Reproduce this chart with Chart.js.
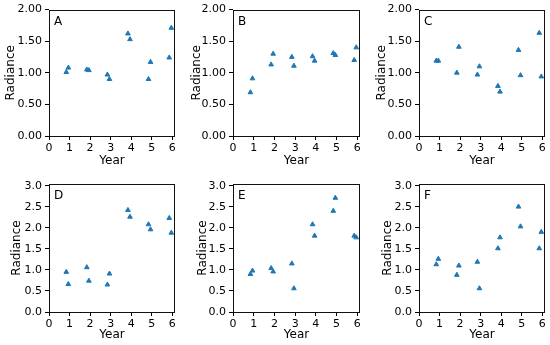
<!DOCTYPE html>
<html>
<head>
<meta charset="utf-8">
<script src="https://cdn.jsdelivr.net/npm/chart.js@4.4.1/dist/chart.umd.min.js"></script>
<style>
  body { margin: 0; background: #fff; }
  #wrap { position: relative; width: 550px; height: 345px; }
  canvas { position: absolute; }
</style>
</head>
<body>
<div id="wrap">
  <canvas id="pA"></canvas>
  <canvas id="pB"></canvas>
  <canvas id="pC"></canvas>
  <canvas id="pD"></canvas>
  <canvas id="pE"></canvas>
  <canvas id="pF"></canvas>
</div>
<script>
// x positions of the two measurements in each year
var xFirst = [0.84, 1.84, 2.84, 3.84, 4.84, 5.85];
var xSecond = [0.94, 1.94, 2.94, 3.94, 4.94, 5.95];

// radiance values
var radA1 = [1.01, 1.05, 0.97, 1.62, 0.90, 1.24];
var radA2 = [1.08, 1.04, 0.90, 1.53, 1.17, 1.71];
var radB1 = [0.69, 1.13, 1.25, 1.26, 1.31, 1.20];
var radB2 = [0.91, 1.30, 1.11, 1.19, 1.28, 1.40];
var radC1 = [1.19, 1.00, 0.97, 0.79, 1.36, 1.63];
var radC2 = [1.19, 1.41, 1.10, 0.70, 0.96, 0.94];
var radD1 = [0.95, 1.06, 0.65, 2.42, 2.08, 2.23];
var radD2 = [0.66, 0.74, 0.91, 2.26, 1.96, 1.88];
var radE1 = [0.90, 1.04, 1.15, 2.08, 2.40, 1.81];
var radE2 = [0.98, 0.96, 0.56, 1.81, 2.71, 1.77];
var radF1 = [1.13, 0.88, 1.19, 1.51, 2.50, 1.51];
var radF2 = [1.26, 1.10, 0.56, 1.77, 2.03, 1.90];

var xTicks = [0, 1, 2, 3, 4, 5, 6];
var yTicksTop = [0, 0.25, 0.5, 0.75, 1, 1.25, 1.5, 1.75, 2];
var yTicksBottom = [0, 0.5, 1, 1.5, 2, 2.5, 3];

var blue = '#1f77b4';
var font = 'DejaVu Sans';

// box round the plot area + panel letter
var boxPlugin = {
    id: 'box',
    afterDraw: function (chart) {
        var a = chart.chartArea;
        var c = chart.ctx;
        c.save();
        c.strokeStyle = '#111';
        c.lineWidth = 1;
        c.strokeRect(Math.round(a.left) + 0.5, Math.round(a.top) + 0.5,
            Math.round(a.right - a.left) - 1, Math.round(a.bottom - a.top));
        c.fillStyle = '#000';
        c.font = '12px "' + font + '"';
        c.textBaseline = 'middle';
        c.fillText(chart.options.plugins.box.letter, a.left + 5, a.top + 12);
        c.restore();
    }
};

function toPoints(xs, ys) {
    return xs.map(function (x, i) { return {x: x, y: ys[i]}; });
}

function makePanel(id, letter, s1, s2, geo, yMax, yTicks, digits) {
    var cv = document.getElementById(id);
    cv.width = geo.w;
    cv.height = geo.h;
    cv.style.left = geo.x + 'px';
    cv.style.top = geo.y + 'px';
    cv.style.width = geo.w + 'px';
    cv.style.height = geo.h + 'px';

    var ds = function (data) {
        return {
            data: data,
            backgroundColor: blue,
            borderColor: blue,
            borderWidth: 1,
            pointStyle: 'triangle',
            pointRadius: 2.7,
            showLine: false
        };
    };

    return new Chart(cv.getContext('2d'), {
        type: 'scatter',
        data: {
            datasets: [ds(toPoints(xFirst, s1)), ds(toPoints(xSecond, s2))]
        },
        options: {
            responsive: false,
            animation: false,
            devicePixelRatio: 1,
            layout: {padding: {left: 0, top: geo.pt, right: geo.pr, bottom: 0}},
            plugins: {
                legend: {display: false},
                tooltip: {enabled: false},
                box: {letter: letter}
            },
            scales: {
                x: {
                    type: 'linear',
                    min: 0,
                    max: 6.13,
                    afterBuildTicks: function (s) {
                        s.ticks = xTicks.map(function (v) { return {value: v}; });
                    },
                    afterFit: function (s) { s.height = geo.xh; },
                    ticks: {
                        color: '#000',
                        font: {family: font, size: 11},
                        padding: 2,
                        maxRotation: 0,
                        callback: function (v) { return String(v); }
                    },
                    grid: {display: true, drawOnChartArea: false, drawTicks: true, tickLength: 4, color: '#000'},
                    border: {display: false},
                    title: {
                        display: true, text: 'Year', color: '#000',
                        font: {family: font, size: 12},
                        padding: {top: 0, bottom: geo.tb}
                    }
                },
                y: {
                    min: 0,
                    max: yMax,
                    afterBuildTicks: function (s) {
                        s.ticks = yTicks.map(function (v) { return {value: v}; });
                    },
                    afterFit: function (s) { s.width = geo.yw; },
                    ticks: {
                        color: '#000',
                        font: {family: font, size: 11},
                        padding: 3,
                        callback: function (v) { return v.toFixed(digits); }
                    },
                    grid: {display: true, drawOnChartArea: false, drawTicks: true, tickLength: 4, color: '#000'},
                    border: {display: false},
                    title: {
                        display: true, text: 'Radiance', color: '#000',
                        font: {family: font, size: 12},
                        padding: {top: geo.tl, bottom: 0}
                    }
                }
            }
        },
        plugins: [boxPlugin]
    });
}

var top1 = {y: 0, h: 172, pt: 8, xh: 36, tb: 4};
var bot1 = {y: 172, h: 173, pt: 12, xh: 33, tb: 3};
function geo(row, x, w, yw, tl) {
    return {x: x, y: row.y, w: w, h: row.h, pt: row.pt, xh: row.xh, tb: row.tb, pr: 4, yw: yw, tl: tl};
}

makePanel('pA', 'A', radA1, radA2, geo(top1, 0, 180, 49, 4), 2, yTicksTop, 2);
makePanel('pB', 'B', radB1, radB2, geo(top1, 180, 185, 53, 10), 2, yTicksTop, 2);
makePanel('pC', 'C', radC1, radC2, geo(top1, 365, 185, 54, 10), 2, yTicksTop, 2);
makePanel('pD', 'D', radD1, radD2, geo(bot1, 0, 180, 49, 10), 3.04, yTicksBottom, 1);
makePanel('pE', 'E', radE1, radE2, geo(bot1, 180, 185, 53, 16), 3.04, yTicksBottom, 1);
makePanel('pF', 'F', radF1, radF2, geo(bot1, 365, 185, 54, 16), 3.04, yTicksBottom, 1);
</script>
</body>
</html>
